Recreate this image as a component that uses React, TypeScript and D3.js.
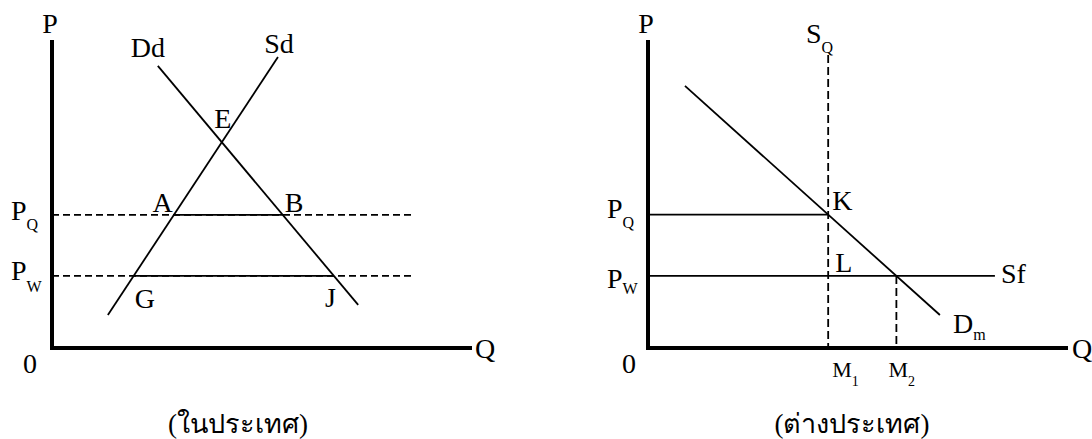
import React from "react";
import * as d3 from "d3";

// ---- data (economic units: Q 0..100, P 0..100) ----
const priceLevels = { PQ: 43.2, PW: 23.4 };
// domestic panel
const demandDomestic: [number, number][] = [[25.2, 91.6], [72.9, 14.0]]; // Dd
const supplyDomestic: [number, number][] = [[13.3, 10.7], [53.8, 94.5]]; // Sd
const domesticDashEnd = 86;
// foreign panel
const demandImport: [number, number][] = [[8.8, 85.1], [69.5, 10.7]]; // Dm
const quotaQ = 42.9; // SQ
const quotaTop = 95.1;
const sfEnd = 82.6;
const captions = ["(ในประเทศ)", "(ต่างประเทศ)"];

const W = 1092, H = 439;
const FONT = "Liberation Serif, DejaVu Serif, serif";

const yS = d3.scaleLinear().domain([0, 100]).range([348, 40]);
const xL = d3.scaleLinear().domain([0, 100]).range([52, 472]);
const xR = d3.scaleLinear().domain([0, 100]).range([648, 1068]);

function qAt(line: [number, number][], p: number) {
  const [[q1, p1], [q2, p2]] = line;
  return q1 + ((p - p1) * (q2 - q1)) / (p2 - p1);
}
function pAt(line: [number, number][], q: number) {
  const [[q1, p1], [q2, p2]] = line;
  return p1 + ((q - q1) * (p2 - p1)) / (q2 - q1);
}
function intersect(a: [number, number][], b: [number, number][]) {
  const [[x1, y1], [x2, y2]] = a;
  const [[x3, y3], [x4, y4]] = b;
  const ma = (y2 - y1) / (x2 - x1), mb = (y4 - y3) / (x4 - x3);
  const q = (y3 - y1 + ma * x1 - mb * x3) / (ma - mb);
  return [q, y1 + ma * (q - x1)];
}

const thin = { stroke: "#000", strokeWidth: 1.8, fill: "none" };
const dash = { ...thin, strokeDasharray: "7,4" };

function Lbl({ x, y, t, sub, size = 28, subSize = 16, anchor = "start", dy = 10 }: any) {
  return (
    <text x={x} y={y} textAnchor={anchor} fill="#000" style={{ fontFamily: FONT, fontSize: size }}>
      {t}
      {sub && (
        <tspan style={{ fontSize: subSize }} dy={dy}>
          {sub}
        </tspan>
      )}
    </text>
  );
}

export default function App() {
  const line = d3.line<[number, number]>();
  const E = intersect(demandDomestic, supplyDomestic);
  const Aq = qAt(supplyDomestic, priceLevels.PQ);
  const Bq = qAt(demandDomestic, priceLevels.PQ);
  const Gq = qAt(supplyDomestic, priceLevels.PW);
  const Jq = qAt(demandDomestic, priceLevels.PW);
  const yPQ = yS(priceLevels.PQ), yPW = yS(priceLevels.PW);
  const ddTop = demandDomestic[0], sdTop = supplyDomestic[1];
  const Kp = pAt(demandImport, quotaQ);
  const M2q = qAt(demandImport, priceLevels.PW);
  const dmEnd = demandImport[1];

  return (
    <svg width={W} height={H} style={{ display: "block", position: "absolute", left: 0, top: 0, background: "#fff" }}>
      {/* ---------- left panel ---------- */}
      <path d={line([[xL(0), yS(100)], [xL(0), yS(0)], [xL(100), yS(0)]])!} stroke="#000" strokeWidth={4} fill="none" />
      <path d={line([[xL(0), yPQ], [xL(domesticDashEnd), yPQ]])!} {...dash} />
      <path d={line([[xL(0), yPW], [xL(domesticDashEnd), yPW]])!} {...dash} />
      <path d={line([[xL(Aq), yPQ], [xL(Bq), yPQ]])!} {...thin} />
      <path d={line([[xL(Gq), yPW], [xL(Jq), yPW]])!} {...thin} />
      <path d={line(demandDomestic.map(([q, p]) => [xL(q), yS(p)]))!} {...thin} />
      <path d={line(supplyDomestic.map(([q, p]) => [xL(q), yS(p)]))!} {...thin} />

      <Lbl x={xL(0) - 2} y={33} t="P" anchor="middle" />
      <Lbl x={xL(100) + 3} y={358} t="Q" />
      <Lbl x={23} y={373} t="0" />
      <Lbl x={11} y={yPQ + 5} t="P" sub="Q" />
      <Lbl x={11} y={yPW + 4} t="P" sub="W" dy={12} />
      <Lbl x={xL(ddTop[0]) - 10} y={yS(ddTop[1]) - 9} t="Dd" anchor="middle" />
      <Lbl x={xL(sdTop[0]) + 1} y={yS(sdTop[1]) - 4} t="Sd" anchor="middle" />
      <Lbl x={xL(E[0]) + 1} y={yS(E[1]) - 14} t="E" anchor="middle" />
      <Lbl x={xL(Aq) - 1} y={yPQ - 3} t="A" anchor="end" />
      <Lbl x={xL(Bq) + 2} y={yPQ - 3} t="B" />
      <Lbl x={xL(Gq) + 1} y={yPW + 32} t="G" />
      <Lbl x={xL(Jq) - 9} y={yPW + 31} t="J" />
      <Lbl x={238} y={433} t={captions[0]} size={27} anchor="middle" />

      {/* ---------- right panel ---------- */}
      <path d={line([[xR(0), yS(100)], [xR(0), yS(0)], [xR(100), yS(0)]])!} stroke="#000" strokeWidth={4} fill="none" />
      <path d={line([[xR(quotaQ), yS(quotaTop)], [xR(quotaQ), yS(0)]])!} {...thin} strokeDasharray="8,4" />
      <path d={line([[xR(M2q), yPW], [xR(M2q), yS(0)]])!} {...thin} strokeDasharray="8,4" />
      <path d={line([[xR(0), yS(Kp)], [xR(quotaQ), yS(Kp)]])!} {...thin} />
      <path d={line([[xR(0) - 2, yPW], [xR(sfEnd), yPW]])!} {...thin} />
      <path d={line(demandImport.map(([q, p]) => [xR(q), yS(p)]))!} {...thin} />

      <Lbl x={xR(0) - 2} y={33} t="P" anchor="middle" />
      <Lbl x={xR(100) + 4} y={358} t="Q" />
      <Lbl x={622} y={373} t="0" />
      <Lbl x={607} y={yPQ + 3} t="P" sub="Q" />
      <Lbl x={607} y={yPW + 12} t="P" sub="W" dy={6} />
      <Lbl x={806} y={43} t="S" sub="Q" />
      <Lbl x={xR(quotaQ) + 4} y={yS(Kp) - 5} t="K" />
      <Lbl x={xR(quotaQ) + 7} y={yPW - 4} t="L" />
      <Lbl x={xR(sfEnd) + 6} y={yPW + 7} t="Sf" />
      <Lbl x={xR(dmEnd[0]) + 13} y={yS(dmEnd[1]) + 18} t="D" sub="m" dy={7} />
      <Lbl x={xR(quotaQ) + 4} y={377} t="M" sub="1" size={22} subSize={14} dy={9} />
      <Lbl x={xR(M2q) - 8} y={377} t="M" sub="2" size={22} subSize={14} dy={9} />
      <Lbl x={852} y={433} t={captions[1]} size={27} anchor="middle" />
    </svg>
  );
}
